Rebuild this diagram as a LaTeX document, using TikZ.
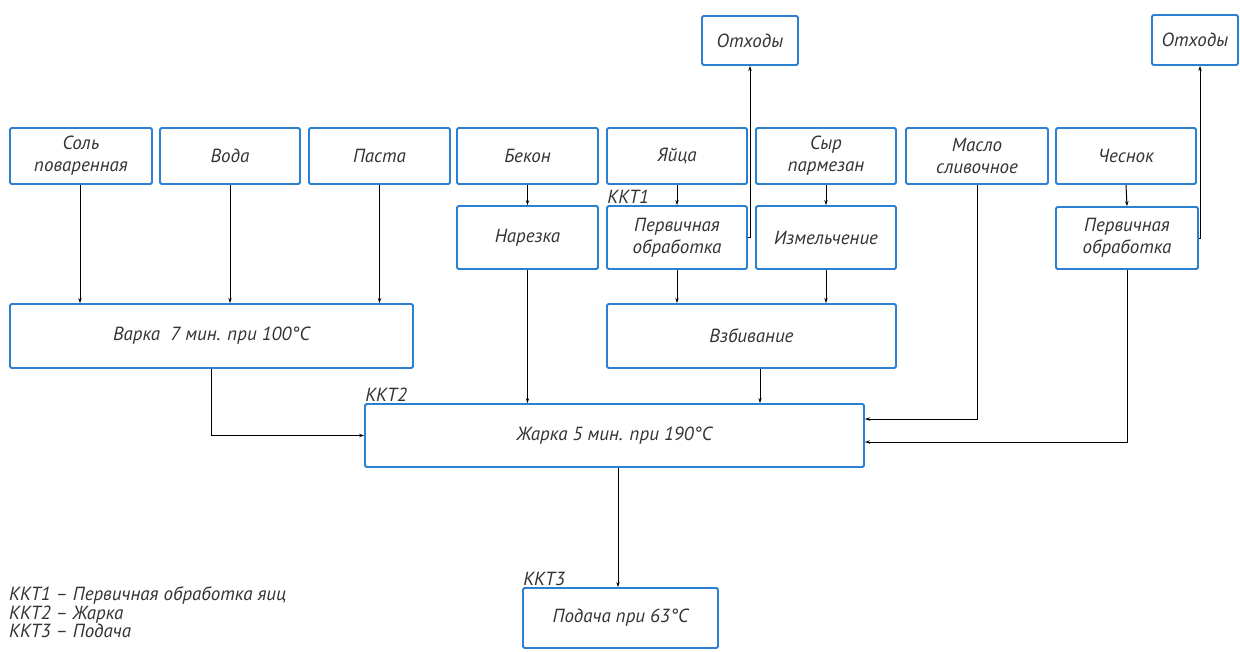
\documentclass[tikz,border=0pt]{standalone}
\usepackage{fontspec}
\setmainfont{PT Sans}
\usetikzlibrary{arrows.meta,calc}
\definecolor{boxblue}{HTML}{2B80D2}
\definecolor{txt}{HTML}{333333}
\begin{document}
\begin{tikzpicture}[x=1pt,y=-1pt,
  box/.style={draw=boxblue,line width=1.8pt,rounded corners=1.5pt,inner sep=0pt,
    align=center,font=\fontsize{19}{22}\selectfont\itshape,text=txt},
  conn/.style={draw=black,line width=1pt,-{Stealth[length=5pt,width=3.4pt]}},
  lbl/.style={font=\fontsize{19}{22}\selectfont\itshape,text=txt,inner sep=1pt}]
\useasboundingbox (0,0) rectangle (1240,651);
% top row
\node[box,minimum width=142,minimum height=56] (sol) at (81,156) {Соль\\поваренная};
\node[box,minimum width=140,minimum height=56] (voda) at (230,156) {Вода};
\node[box,minimum width=141,minimum height=56] (pasta) at (379.5,156) {Паста};
\node[box,minimum width=141,minimum height=56] (bekon) at (527.5,156) {Бекон};
\node[box,minimum width=140,minimum height=56] (yaica) at (677,156) {Яйца};
\node[box,minimum width=140,minimum height=56] (syr) at (826,156) {Сыр\\пармезан};
\node[box,minimum width=142,minimum height=56] (maslo) at (977,156) {Масло\\сливочное};
\node[box,minimum width=140,minimum height=56] (chesnok) at (1126,156) {Чеснок};
% waste
\node[box,minimum width=96,minimum height=49] (otx1) at (750,40.5) {Отходы};
\node[box,minimum width=86,minimum height=50] (otx2) at (1195,40) {Отходы};
% second row
\node[box,minimum width=141,minimum height=63] (narezka) at (527.5,237.5) {Нарезка};
\node[box,minimum width=140,minimum height=63] (pervobr) at (677,237.5) {Первичная\\обработка};
\node[box,minimum width=140,minimum height=63] (izmel) at (826,237.5) {Измельчение};
\node[box,minimum width=142,minimum height=62] (pervobrb) at (1127,238) {Первичная\\обработка};
% third row
\node[box,minimum width=403,minimum height=64] (varka) at (211.5,336) {Варка\ \ 7 мин. при 100°С};
\node[box,minimum width=289,minimum height=64] (vzbiv) at (751.5,336) {Взбивание};
% fry
\node[box,minimum width=499,minimum height=63] (zharka) at (614.5,435.5) {Жарка 5 мин. при 190°С};
% serve
\node[box,minimum width=195,minimum height=60] (podacha) at (620.5,618) {Подача при 63°С};
% labels
\node[lbl,anchor=south west] (k1) at (pervobr.north west) {ККТ1};
\node[lbl,anchor=south west] (k2) at (zharka.north west) {ККТ2};
\node[lbl,anchor=south west] (k3) at (podacha.north west) {ККТ3};
\node[lbl,anchor=north west,align=left,font=\fontsize{19}{17}\selectfont\itshape] (legend) at (8,586)
  {ККТ1 – Первичная обработка яиц\\ККТ2 – Жарка\\ККТ3 – Подача};
% connectors
\draw[conn] ([xshift=-1]sol.south) -- ([xshift=-1]sol.south |- varka.north);
\draw[conn] (voda.south) -- (voda.south |- varka.north);
\draw[conn] (pasta.south) -- (pasta.south |- varka.north);
\draw[conn] (bekon.south) -- (narezka.north);
\draw[conn] (yaica.south) -- (pervobr.north);
\draw[conn] (syr.south) -- (izmel.north);
\draw[conn] (chesnok.south) -- (pervobrb.north);
\draw[conn] (pervobr.east) -| (otx1.south);
\draw[conn] (pervobrb.east) -| ([xshift=5]otx2.south);
\draw[conn] (pervobr.south) -- (pervobr.south |- vzbiv.north);
\draw[conn] (izmel.south) -- (izmel.south |- vzbiv.north);
\draw[conn] (varka.south) |- (zharka.west);
\draw[conn] (narezka.south) -- (narezka.south |- zharka.north);
\draw[conn] ([xshift=8.5]vzbiv.south) -- ([xshift=8.5]vzbiv.south |- zharka.north);
\draw[conn] (maslo.south) |- ([yshift=16.5]zharka.east);
\draw[conn] (pervobrb.south) |- ([yshift=-6.5]zharka.east);
\draw[conn] ([xshift=-2.5]podacha.north |- zharka.south) -- ([xshift=-2.5]podacha.north);
\end{tikzpicture}
\end{document}
